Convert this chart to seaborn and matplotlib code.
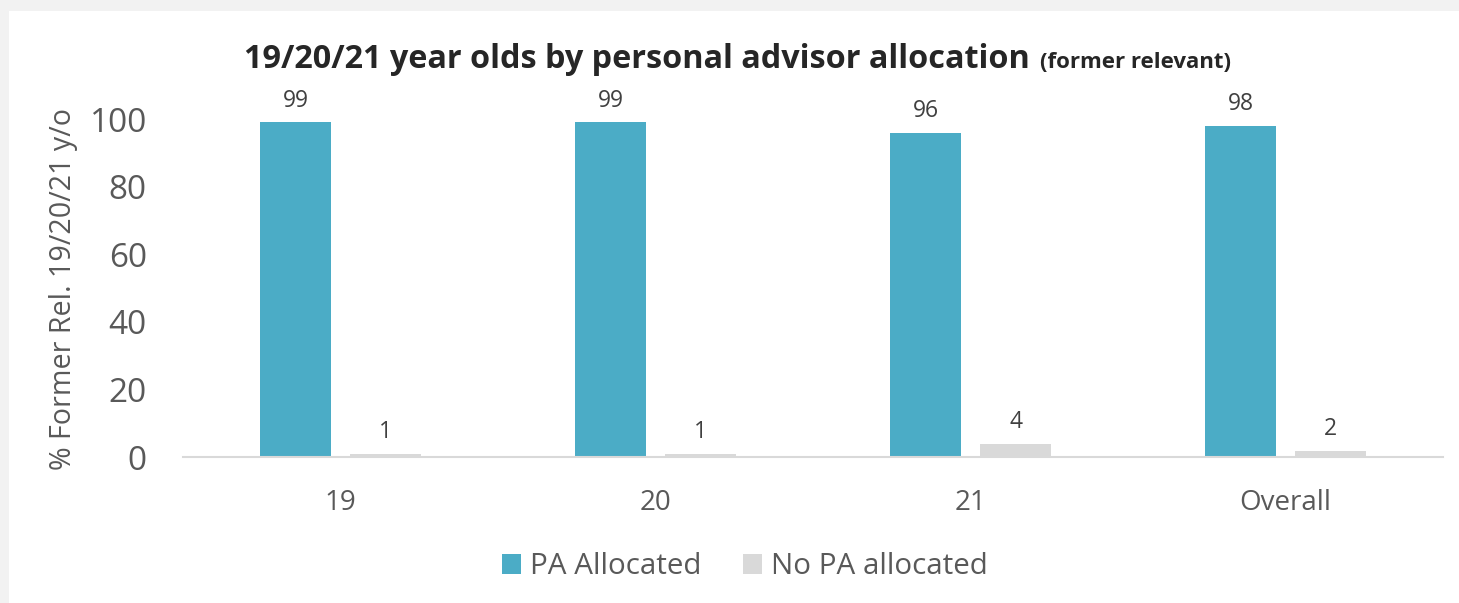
import matplotlib
matplotlib.use("Agg")
import matplotlib.pyplot as plt
import seaborn as sns
import pandas as pd
from matplotlib.patches import Rectangle

# Data
ages = ["19", "20", "21", "Overall"]
pa_allocated = [99, 99, 96, 98]
no_pa_allocated = [1, 1, 4, 2]
series_names = ["PA Allocated", "No PA allocated"]

df = pd.DataFrame({
    "age": ages * 2,
    "pct": pa_allocated + no_pa_allocated,
    "status": [series_names[0]] * len(ages) + [series_names[1]] * len(ages),
})

sns.set_theme(style="white")
plt.rcParams["font.family"] = ["Open Sans", "DejaVu Sans"]

W, H = 1459, 603
fig = plt.figure(figsize=(W / 100, H / 100), dpi=100, facecolor="#f2f2f2")

# white card behind the chart
card = Rectangle((9 / W, 0), 1 - 9 / W, 1 - 11 / H, transform=fig.transFigure,
                 facecolor="white", edgecolor="none", zorder=-10)
fig.add_artist(card)

ax = fig.add_axes([183 / W, 1 - 457.3 / H, 1260 / W, 338.3 / H])
ax.set_facecolor("none")

teal = "#4bacc6"
grey = "#d9d9d9"
sns.barplot(data=df, x="age", y="pct", hue="status", palette=[teal, grey],
            saturation=1, width=0.572, gap=0.21, linewidth=0, ax=ax, legend=True)

ax.set_ylim(0, 100)
ax.set_xlim(-0.5, 3.5)
ax.set_yticks([0, 20, 40, 60, 80, 100])

for cont in ax.containers:
    ax.bar_label(cont, fmt="%d", padding=7, fontsize=16.5, color="#404040", clip_on=False)

for s in ["top", "right", "left"]:
    ax.spines[s].set_visible(False)
ax.spines["bottom"].set_color("#d9d9d9")
ax.spines["bottom"].set_linewidth(1.5)

ax.tick_params(axis="y", length=0, pad=26, labelsize=24, labelcolor="#595959")
ax.tick_params(axis="x", length=0, pad=23, labelsize=20, labelcolor="#595959")
ax.set_xlabel("")
ax.set_ylabel("% Former Rel. 19/20/21 y/o", fontsize=20.6, color="#595959")
ax.yaxis.set_label_coords(-0.083, 0.497)

# title with smaller subtitle
fig.text(1030 / W, 1 - 60 / H, "19/20/21 year olds by personal advisor allocation",
         ha="right", va="center", fontsize=23.3, fontweight="bold", color="#262626")
fig.text(1040 / W, 1 - 63 / H, "(former relevant)",
         ha="left", va="center", fontsize=16, fontweight="bold", color="#262626")

leg = ax.legend(loc="center", bbox_to_anchor=(745 / W, 1 - 567 / H),
                bbox_transform=fig.transFigure, ncol=2, frameon=False,
                fontsize=21.3, handlelength=0.64, handleheight=0.64,
                handletextpad=0.3, columnspacing=1.4)
for t in leg.get_texts():
    t.set_color("#595959")

fig.savefig("out.png", dpi=100, facecolor=fig.get_facecolor())
